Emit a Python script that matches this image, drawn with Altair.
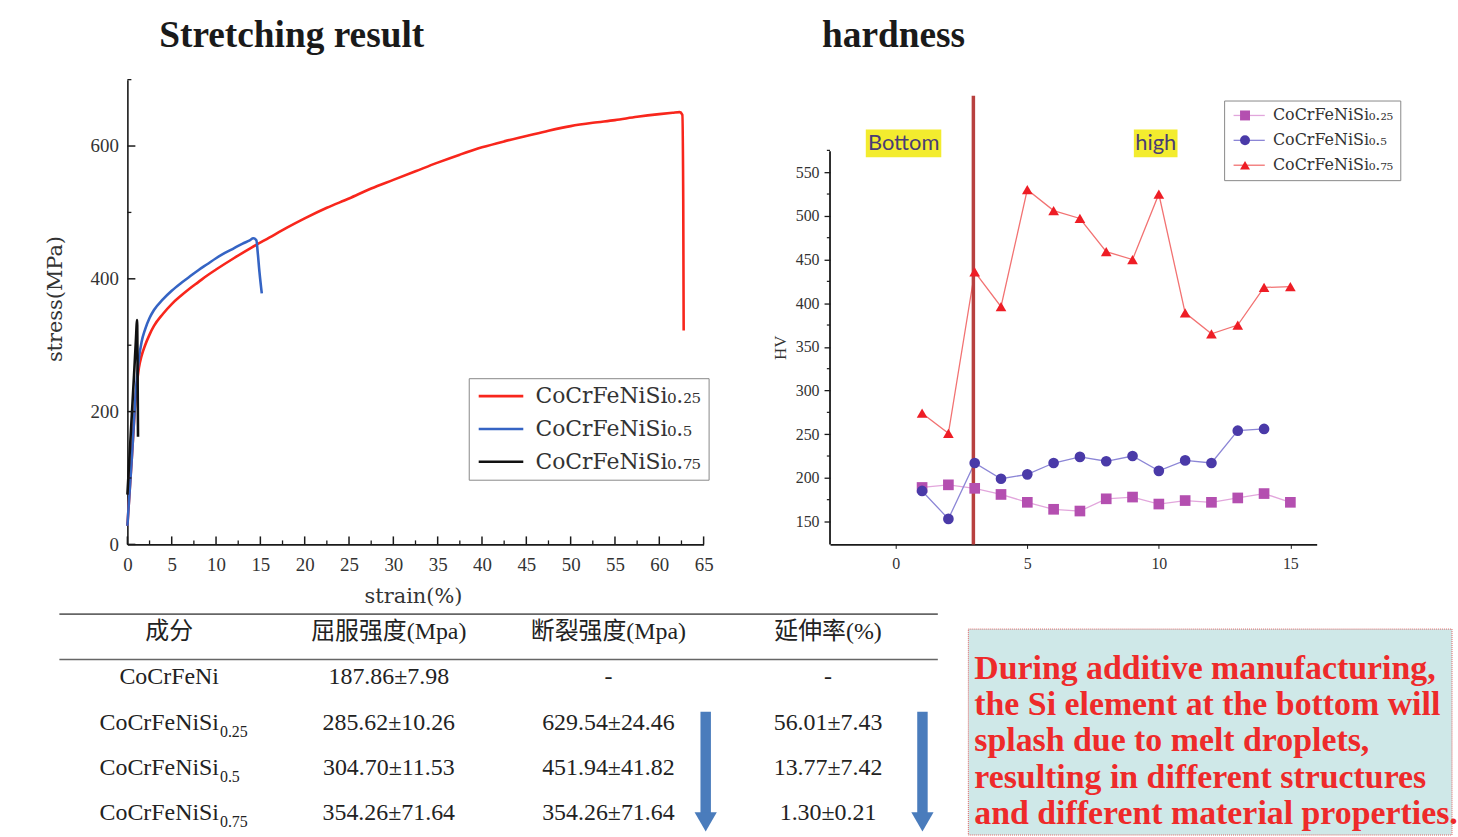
import altair as alt
import pandas as pd

# ---------------- data ----------------
series_names = ["CoCrFeNiSi0.25", "CoCrFeNiSi0.5", "CoCrFeNiSi0.75"]

# stress-strain curves (strain %, stress MPa)
strain_025 = [0, 0.5, 1.0, 1.3, 1.6, 2.0, 2.5, 3.0, 4.0, 5.0, 6.0, 7.0, 8.0, 9.0, 10.0, 12.0, 14.0,
              16.0, 18.0, 20.0, 22.5, 25.0, 27.5, 30.0, 32.5, 35.0, 37.5, 40.0, 42.5, 45.0, 47.5,
              50.0, 52.5, 55.0, 57.5, 60.0, 61.5, 62.3, 62.6, 62.7, 62.75]
stress_025 = [28, 130, 232, 266, 284, 300, 316, 329, 347, 362, 374, 385, 395, 405, 414, 431, 447,
              462, 477, 491, 507, 521, 536, 549, 562, 575, 587, 598, 607, 615, 623,
              630, 635, 639, 644, 648, 650, 651, 647, 520, 322]
strain_05 = [0, 0.5, 1.0, 1.3, 1.6, 2.0, 2.5, 3.0, 4.0, 5.0, 6.0, 7.0, 8.0, 9.0, 10.0, 11.0, 12.0,
             13.0, 13.8, 14.2, 14.55, 14.7, 14.9, 15.16]
stress_05 = [28, 130, 238, 280, 305, 324, 341, 353, 369, 382, 393, 403, 413, 422, 431, 439, 446,
             453, 458, 461, 458, 440, 410, 378]
strain_075 = [0, 0.25, 0.5, 0.75, 0.95, 1.1, 1.13, 1.2]
stress_075 = [75, 135, 195, 255, 305, 338, 300, 162]

# hardness profile (HV) by measuring position
pos_025 = list(range(1, 16))
hv_025 = [189, 192, 188, 181, 172, 164, 162, 176, 178, 170, 174, 172, 177, 182, 172]
pos_05 = list(range(1, 15))
hv_05 = [185, 153, 217, 199, 204, 217, 224, 219, 225, 208, 220, 217, 254, 256]
pos_075 = list(range(1, 16))
hv_075 = [274, 251, 436, 396, 530, 506, 497, 459, 450, 525, 389, 365, 375, 418, 419]

# table
table_header = ["成分", "屈服强度(Mpa)", "断裂强度(Mpa)", "延伸率(%)"]
alloy_base = ["CoCrFeNi", "CoCrFeNiSi", "CoCrFeNiSi", "CoCrFeNiSi"]
alloy_sub = ["", "0.25", "0.5", "0.75"]
yield_strength = ["187.86±7.98", "285.62±10.26", "304.70±11.53", "354.26±71.64"]
fracture_strength = ["-", "629.54±24.46", "451.94±41.82", "354.26±71.64"]
elongation = ["-", "56.01±7.43", "13.77±7.42", "1.30±0.21"]

note_lines = ["During additive manufacturing,",
              "the Si element at the bottom will",
              "splash due to melt droplets,",
              "resulting in different structures",
              "and different material properties."]

# ---------------- styles ----------------
SERIF = "Liberation Serif, Times New Roman, serif"
DJV = "DejaVu Serif"
CJK = "Liberation Serif, Noto Sans CJK SC, serif"
SANS = "Lato, Open Sans, sans-serif"
AX = "#1a1a1a"
TXT = "#333333"
sub_expr = ("replace(replace(replace(datum.label, '0.25', '₀.₂₅'), '0.75', '₀.₇₅'), "
            "'0.5', '₀.₅')")

# ---------------- left: stress-strain ----------------
rows = []
for name, xs, ys in zip(series_names, [strain_025, strain_05, strain_075],
                        [stress_025, stress_05, stress_075]):
    for i, (x, y) in enumerate(zip(xs, ys)):
        rows.append({"series": name, "strain": x, "stress": y, "order": i})
ss_df = pd.DataFrame(rows)

x_major = list(range(0, 66, 5))
x_minor = [2.5 + 5 * k for k in range(13)]
y_major = [0, 200, 400, 600]
y_minor = [100, 300, 500, 700]

sx = alt.Scale(domain=[0, 65], nice=False, zero=False)
sy = alt.Scale(domain=[0, 700], nice=False)

X_ss = alt.X("strain:Q", scale=sx, axis=alt.Axis(
    values=x_major, ticks=False, grid=False, domainColor=AX, domainWidth=1.6,
    labelFont=SERIF, labelFontSize=19, labelColor=TXT, labelPadding=11,
    labelFlush=False, labelOverlap=False,
    title="strain(%)", titleFont=DJV, titleFontSize=21, titleFontWeight="normal",
    titleColor=TXT, titleX=287, titleY=52, titleBaseline="middle"))
Y_ss = alt.Y("stress:Q", scale=sy, axis=alt.Axis(
    values=y_major, ticks=False, grid=False, domainColor=AX, domainWidth=1.6,
    labelFont=SERIF, labelFontSize=19, labelColor=TXT, labelPadding=9,
    labelFlush=False, labelOverlap=False,
    title="stress(MPa)", titleFont=DJV, titleFontSize=21, titleFontWeight="normal",
    titleColor=TXT, titleX=-72, titleY=220, titleBaseline="middle", titleAngle=270))

curves = alt.Chart(ss_df).mark_line(strokeWidth=2.6, interpolate="monotone").encode(
    x=X_ss, y=Y_ss,
    color=alt.Color("series:N", scale=alt.Scale(domain=series_names,
                                                range=["#f8261c", "#3564c4", "#111111"]),
                    legend=alt.Legend(title=None, orient="none", legendX=343, legendY=300,
                                      symbolType="M-1,0H4.6", symbolSize=256,
                                      symbolStrokeWidth=2.6, labelFont=DJV, labelFontSize=22,
                                      labelColor=TXT, labelOffset=38, padding=7,
                                      rowPadding=11, strokeColor="#888888", fillColor="white",
                                      labelExpr=sub_expr, labelLimit=400)),
    order="order:Q")

xt_major = alt.Chart(pd.DataFrame({"strain": x_major})).mark_rule(color=AX, strokeWidth=1.5).encode(
    x="strain:Q", y=alt.datum(0), y2=alt.datum(12))
xt_minor = alt.Chart(pd.DataFrame({"strain": x_minor})).mark_rule(color=AX, strokeWidth=1.3).encode(
    x="strain:Q", y=alt.datum(0), y2=alt.datum(6))
yt_major = alt.Chart(pd.DataFrame({"stress": y_major})).mark_rule(color=AX, strokeWidth=1.5).encode(
    y="stress:Q", x=alt.datum(0), x2=alt.datum(0.9))
yt_minor = alt.Chart(pd.DataFrame({"stress": y_minor})).mark_rule(color=AX, strokeWidth=1.3).encode(
    y="stress:Q", x=alt.datum(0), x2=alt.datum(0.45))

ss_group = alt.layer(curves, xt_major, xt_minor, yt_major, yt_minor)

# ---------------- table + note (placed below, own scales) ----------------
tx = alt.Scale(domain=[-0.1903, 5.8414], range=[0, 1331], nice=False, zero=False)
ty = alt.Scale(domain=[-0.3509, 4.5175], range=[537, 759], nice=False, zero=False)

head_df = pd.DataFrame({"col": [0, 1, 2, 3], "row": [0] * 4, "text": table_header})
body = []
for r in range(4):
    for c, vals in zip([1, 2, 3], [yield_strength, fracture_strength, elongation]):
        body.append({"col": c, "row": r + 1, "text": vals[r]})
body_df = pd.DataFrame(body)
alloy_df = pd.DataFrame({"col": [0] * 4, "row": [1, 2, 3, 4], "base": alloy_base, "sub": alloy_sub})

XT = alt.X("col:Q", scale=tx, axis=None)
YT = alt.Y("row:Q", scale=ty, axis=None)

hlines = alt.Chart(pd.DataFrame({"row": [-0.35, 0.65], "col": [-0.5, -0.5], "c2": [3.5, 3.5]})).mark_rule(
    color="#666666", strokeWidth=1.6).encode(x=XT, x2="c2:Q", y=YT)
head_text = alt.Chart(head_df).mark_text(font=CJK, fontSize=24, color="#222222",
                                         baseline="middle", dy=2).encode(x=XT, y=YT, text="text:N")
body_text = alt.Chart(body_df).mark_text(font=SERIF, fontSize=24, color="#222222",
                                         baseline="middle", dy=2).encode(x=XT, y=YT, text="text:N")
plain_alloy = alt.Chart(alloy_df).transform_filter("datum.sub == ''").mark_text(
    font=SERIF, fontSize=24, color="#222222", baseline="middle", dy=2).encode(
    x=XT, y=YT, text="base:N")
base_alloy = alt.Chart(alloy_df).transform_filter("datum.sub != ''").mark_text(
    font=SERIF, fontSize=24, color="#222222", baseline="middle", align="right", dx=50, dy=2).encode(
    x=XT, y=YT, text="base:N")
sub_alloy = alt.Chart(alloy_df).transform_filter("datum.sub != ''").mark_text(
    font=SERIF, fontSize=16, color="#222222", baseline="middle", align="left", dx=51, dy=11).encode(
    x=XT, y=YT, text="sub:N")

arrows = pd.DataFrame({"col": [2.443, 3.43], "row": [1.80, 1.80], "r2": [4.10, 4.10]})
shaft = alt.Chart(arrows).mark_rule(color="#4a7cbc", strokeWidth=10.5).encode(
    x=XT, y=YT, y2="r2:Q")
heads = pd.DataFrame({"col": [2.443, 3.43], "row": [4.23, 4.23]})
head = alt.Chart(heads).mark_point(shape="triangle-down", filled=True, opacity=1,
                                   color="#4a7cbc", size=500).encode(x=XT, y=YT)

note_box = alt.Chart(pd.DataFrame({"col": [3.639], "c2": [5.8414], "row": [-0.02],
                                   "r2": [4.5175]})).mark_rect(
    fill="#cfe8e8", stroke="#e06060", strokeDash=[1, 1], strokeWidth=1).encode(
    x=XT, x2="c2:Q", y=YT, y2="r2:Q")
note_df = pd.DataFrame({"col": [3.666] * 5, "row": [1.075 + 0.8 * k for k in range(5)],
                        "text": note_lines})
note_text = alt.Chart(note_df).mark_text(
    font=SERIF, fontSize=34, fontWeight="bold", color="#ee2a2a", align="left",
    baseline="alphabetic").encode(x=XT, y=YT, text="text:N")

table_group = alt.layer(note_box, hlines, head_text, body_text, plain_alloy, base_alloy,
                        sub_alloy, shaft, head, note_text)

TITLE_FONT = dict(offset=-5, baseline="alphabetic", font=SERIF, fontSize=37.5,
                  fontWeight="bold", color="#1a1a1a", anchor="start", frame="group")
left = alt.layer(ss_group, table_group).resolve_scale(x="independent", y="independent").properties(
    width=579, height=467,
    title=alt.TitleParams("Stretching result", dx=32, **TITLE_FONT))

# ---------------- right: hardness ----------------
hv_rows = []
for name, ps, hs in zip(series_names, [pos_025, pos_05, pos_075], [hv_025, hv_05, hv_075]):
    for p, h in zip(ps, hs):
        hv_rows.append({"series": name, "line_series": name, "pos": p, "hv": h})
hv_df = pd.DataFrame(hv_rows)

hx = alt.Scale(domain=[-2.5, 16], nice=False, zero=False)
hy = alt.Scale(domain=[123.8, 656], nice=False, zero=False)
hv_major = list(range(150, 551, 50))
hv_minor = list(range(175, 576, 50))

X_h = alt.X("pos:Q", scale=hx, axis=alt.Axis(
    values=[0, 5, 10, 15], grid=False, domainColor=AX, domainWidth=1.8, tickColor=AX,
    tickSize=4, labelFont=SERIF, labelFontSize=16, labelColor=TXT, labelPadding=7,
    labelFlush=False, title=None))
Y_h = alt.Y("hv:Q", scale=hy, axis=alt.Axis(
    values=hv_major, grid=False, domain=False, tickColor=AX, tickSize=6, tickWidth=1.3,
    labelFont=SERIF, labelFontSize=16, labelColor=TXT, labelPadding=5,
    title="HV", titleFont=SERIF, titleFontSize=17, titleFontWeight="normal", titleColor=TXT,
    titleX=-50, titleY=269, titleBaseline="middle", titleAngle=270))

line_colors = ["#e2a6dc", "#8c86d6", "#f27272"]
marker_colors = ["#b44fb0", "#4a3aa8", "#ee1d25"]
marker_shapes = ["square", "circle", "triangle-up"]

zones = pd.DataFrame({"label": ["Bottom", "high"], "pos": [0.3, 9.88],
                      "x1": [-1.14, 9.05], "x2": [1.73, 10.71]})
zone_rect = alt.Chart(zones).mark_rect(color="#f3ec2e").encode(
    x=alt.X("x1:Q", scale=hx), x2="x2:Q", y=alt.datum(567), y2=alt.datum(599))
zone_text = alt.Chart(zones).mark_text(font=SANS, fontSize=22, color="#4a3d75",
                                        baseline="middle").encode(
    x=alt.X("pos:Q", scale=hx), y=alt.datum(583), text="label:N")

divider = alt.Chart(pd.DataFrame({"pos": [2.95]})).mark_rule(
    color="#b8403f", strokeWidth=3.5).encode(
    x=alt.X("pos:Q", scale=hx), y=alt.datum(123.8), y2=alt.datum(637.6))

y_axis_line = alt.Chart(pd.DataFrame({"pos": [-2.5]})).mark_rule(color=AX, strokeWidth=1.8).encode(
    x=alt.X("pos:Q", scale=hx), y=alt.datum(123.8), y2=alt.datum(574))
minor_ticks = alt.Chart(pd.DataFrame({"hv": hv_minor})).mark_rule(color=AX, strokeWidth=1.2).encode(
    y=alt.Y("hv:Q", scale=hy), x=alt.datum(-2.5), x2=alt.datum(-2.62))

LEG = dict(title=None, orient="none", legendX=396, legendY=21, labelFont=DJV,
           labelFontSize=16, labelColor=TXT, padding=7, rowPadding=9, labelLimit=400)
hv_lines = alt.Chart(hv_df).mark_line(strokeWidth=1.3).encode(
    x=X_h, y=Y_h,
    stroke=alt.Stroke("line_series:N", scale=alt.Scale(range=line_colors),
                      legend=alt.Legend(symbolType="M-1,0H4.7", symbolSize=121,
                                        symbolStrokeWidth=1.3, labelOffset=30,
                                        labelExpr="''", **LEG)))
mk_legend = alt.Legend(symbolSize=100, symbolStrokeWidth=0, symbolOffset=6, labelOffset=20,
                       labelExpr=sub_expr, strokeColor="#888888", **LEG)
hv_points = alt.Chart(hv_df).mark_point(filled=True, opacity=1, size=115).encode(
    x=X_h, y=Y_h,
    shape=alt.Shape("series:N", scale=alt.Scale(domain=series_names, range=marker_shapes),
                    legend=mk_legend),
    fill=alt.Fill("series:N", scale=alt.Scale(domain=series_names, range=marker_colors),
                  legend=mk_legend))

right = alt.layer(zone_rect, zone_text, y_axis_line, minor_ticks, hv_lines, divider,
                  hv_points).properties(
    width=489, height=467,
    title=alt.TitleParams("hardness", dx=-8, **TITLE_FONT))

chart = alt.hconcat(left, right, spacing=127, bounds="flush").resolve_scale(
    color="independent", fill="independent", shape="independent", stroke="independent"
).resolve_legend(
    color="independent", fill="independent", shape="independent", stroke="independent"
).properties(
    padding={"left": 45, "top": 14, "right": 0, "bottom": 0},
    background="white",
).configure_view(stroke=None)

chart.save("out.html", embed_options={"renderer": "svg", "actions": False})
